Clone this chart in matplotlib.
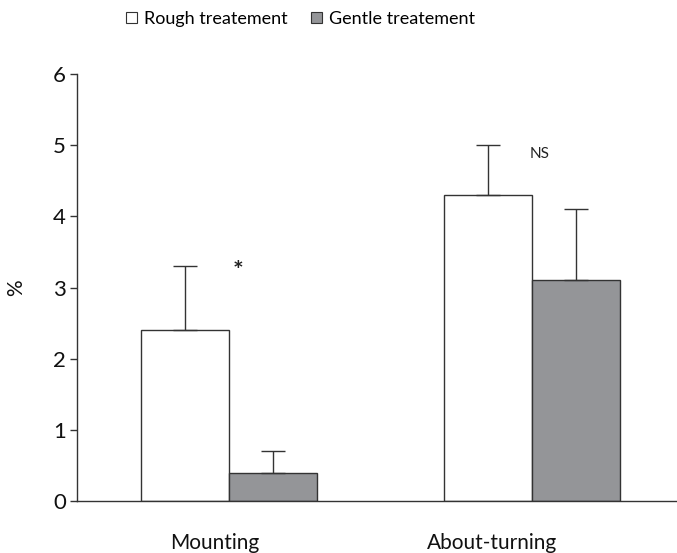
import numpy as np
import matplotlib
matplotlib.use('Agg')
import matplotlib.pyplot as plt
from matplotlib.patches import Patch

plt.rcParams['font.family'] = ['Lato', 'DejaVu Sans']

# Dati: percentuale di comportamenti per trattamento
behaviours = ['Mounting', 'About-turning']
rough_mean = [2.4, 4.3]
rough_err = [0.9, 0.7]
gentle_mean = [0.4, 3.1]
gentle_err = [0.3, 1.0]
signif = ['*', 'NS']

edge = '#333333'
gentle_col = '#949598'
w = 0.29

fig = plt.figure(figsize=(6.77, 5.53), dpi=100)
ax = fig.add_axes([0.1137, 0.094, 0.8863, 0.772])

x = np.arange(len(behaviours))
err_kw = dict(ecolor=edge, elinewidth=1.0, capsize=8.5, capthick=1.0)
ax.bar(x - w / 2, rough_mean, w, color='white', edgecolor=edge, linewidth=1.0,
       yerr=[np.zeros(2), rough_err], error_kw=err_kw, zorder=2)
ax.bar(x + w / 2, gentle_mean, w, color=gentle_col, edgecolor=edge, linewidth=1.0,
       yerr=[np.zeros(2), gentle_err], error_kw=err_kw, zorder=2)

# Annotazioni di significatività
top = [max(r + re, g + ge) for r, re, g, ge in zip(rough_mean, rough_err, gentle_mean, gentle_err)]
ax.text(x[0] + 0.03, top[0] - 0.08, signif[0], ha='center', va='center', fontsize=18,
        fontweight='bold', color='#222222')
ax.text(x[1] + 0.025, top[1] - 0.12, signif[1], ha='center', va='center', fontsize=11, color='#222222')

ax.set_xlim(-0.502, 1.479)
ax.set_ylim(0, 6)
ax.set_yticks(range(7))
ax.set_xticks([x[0] - 0.046, x[1] - 0.13])
ax.set_xticklabels(behaviours)
ax.tick_params(axis='x', length=0, pad=23, labelsize=15, colors='#111111')
ax.tick_params(axis='y', length=5, width=1.0, color=edge, labelsize=16, pad=3, labelcolor='#111111')
ax.set_ylabel('%', fontsize=15, labelpad=19, color='#111111')

for s in ['top', 'right']:
    ax.spines[s].set_visible(False)
for s in ['left', 'bottom']:
    ax.spines[s].set_color(edge)
    ax.spines[s].set_linewidth(1.0)

handles = [Patch(facecolor='white', edgecolor=edge, linewidth=0.8),
           Patch(facecolor=gentle_col, edgecolor=edge, linewidth=0.8)]
fig.legend(handles, ['Rough treatement', 'Gentle treatement'], loc='center',
           bbox_to_anchor=(0.444, 0.966), ncol=2, frameon=False, fontsize=13,
           handlelength=0.6, handleheight=0.6, handletextpad=0.4, columnspacing=1.3)

fig.savefig('out.png', dpi=100)
